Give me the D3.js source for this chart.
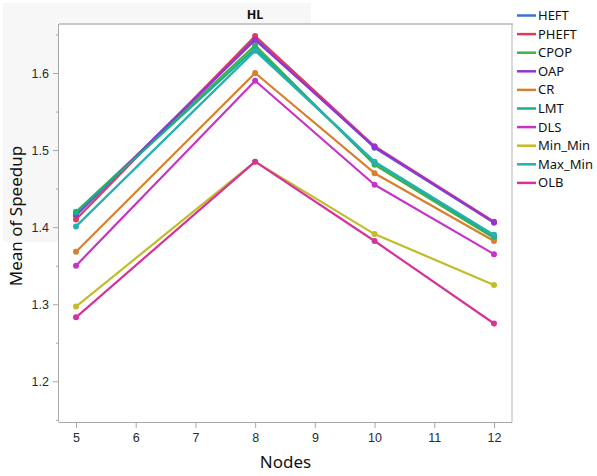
<!DOCTYPE html>
<html>
<head>
<meta charset="utf-8">
<script src="https://cdn.jsdelivr.net/npm/d3@7"></script>
<style>
  html, body { margin: 0; padding: 0; background: #fff; }
  svg { display: block; font-family: "Segoe UI", "Noto Sans", "Open Sans", sans-serif; }
</style>
</head>
<body>
<svg id="chart" width="597" height="476"></svg>
<script>
// Nodes on the x axis
const nodes = [5, 8, 10, 12];

// Algorithm names (legend order) and their colours
const algorithms = ["HEFT", "PHEFT", "CPOP", "OAP", "CR", "LMT", "DLS", "Min_Min", "Max_Min", "OLB"];
const colors = ["#3d6fe0", "#de3c5a", "#3fb34a", "#9633d6", "#d87f2e", "#1bae8a", "#c733c9", "#c2bc2a", "#26b0b0", "#d6339a"];

// Mean of speedup for each algorithm at each node count
const HEFT    = [1.415, 1.645, 1.503, 1.406];
const PHEFT   = [1.410, 1.648, 1.505, 1.407];
const CPOP    = [1.420, 1.636, 1.481, 1.386];
const OAP     = [1.416, 1.643, 1.504, 1.406];
const CR      = [1.368, 1.600, 1.470, 1.382];
const LMT     = [1.419, 1.632, 1.484, 1.388];
const DLS     = [1.350, 1.590, 1.455, 1.365];
const Min_Min = [1.297, 1.485, 1.391, 1.325];
const Max_Min = [1.401, 1.629, 1.485, 1.390];
const OLB     = [1.283, 1.485, 1.382, 1.275];

const seriesValues = [HEFT, PHEFT, CPOP, OAP, CR, LMT, DLS, Min_Min, Max_Min, OLB];

// Axis ticks
const xTicks = [5, 6, 7, 8, 9, 10, 11, 12];
const yTicks = [1.2, 1.3, 1.4, 1.5, 1.6];
const yMinorTicks = [1.15, 1.25, 1.35, 1.45, 1.55, 1.65];

const svg = d3.select("#chart");
const plot = { left: 59, right: 512, top: 24, bottom: 422 };

const x = d3.scaleLinear().domain([5, 12]).range([76, 494]);
const y = d3.scaleLinear().domain([1.2, 1.6]).range([381.3, 73]);

// Light panel behind the header and the y axis
svg.append("rect").attr("x", 3).attr("y", 3).attr("width", 308).attr("height", 239).attr("fill", "#f7f7f7");

// Plot area
svg.append("rect")
  .attr("x", plot.left).attr("y", plot.top)
  .attr("width", plot.right - plot.left).attr("height", plot.bottom - plot.top)
  .attr("fill", "#fff");

// Frame: top and right edges
svg.append("line").attr("x1", plot.left).attr("x2", plot.right + 1).attr("y1", plot.top).attr("y2", plot.top)
  .attr("stroke", "#c8c8c8").attr("stroke-width", 2);
svg.append("line").attr("x1", plot.right).attr("x2", plot.right).attr("y1", plot.top).attr("y2", plot.bottom)
  .attr("stroke", "#b4b4b4").attr("stroke-width", 1);

// Title
svg.append("text").attr("x", 255).attr("y", 19).attr("text-anchor", "middle")
  .attr("font-size", 12.5).attr("font-weight", "bold").attr("fill", "#111").text("HL");

// X axis
const xAxis = svg.append("g").attr("transform", `translate(0,${plot.bottom})`)
  .call(d3.axisBottom(x).tickValues(xTicks).tickFormat(d3.format("d")).tickSizeInner(6).tickSizeOuter(0).tickPadding(5));
xAxis.select(".domain").attr("d", `M${plot.left},0.5H${plot.right}`).attr("stroke", "#a8a8a8");
xAxis.selectAll(".tick line").attr("stroke", "#a8a8a8");
xAxis.selectAll(".tick text").attr("font-size", 12.5).attr("fill", "#2a2a2a");

// Y axis with minor ticks
const yAxis = svg.append("g").attr("transform", `translate(${plot.left},0)`)
  .call(d3.axisLeft(y).tickValues(yTicks).tickFormat(d3.format(".1f")).tickSizeInner(6).tickSizeOuter(0).tickPadding(4));
yAxis.select(".domain").attr("d", `M-0.5,${plot.top}V${plot.bottom}`).attr("stroke", "#a8a8a8");
yAxis.selectAll(".tick line").attr("stroke", "#a8a8a8");
yAxis.selectAll(".tick text").attr("font-size", 12.5).attr("fill", "#2a2a2a");
yAxis.selectAll(".minor").data(yMinorTicks).enter().append("line")
  .attr("class", "minor")
  .attr("x1", -3).attr("x2", 0)
  .attr("y1", d => y(d) + 0.5).attr("y2", d => y(d) + 0.5)
  .attr("stroke", "#a8a8a8");

// Axis titles
svg.append("text").attr("x", (plot.left + plot.right) / 2).attr("y", 468).attr("text-anchor", "middle")
  .attr("font-size", 17).attr("fill", "#111").text("Nodes");
svg.append("text").attr("transform", "translate(22,216) rotate(-90)").attr("text-anchor", "middle")
  .attr("font-size", 17).attr("fill", "#111").text("Mean of Speedup");

// Series lines and points
const line = d3.line().x((d, i) => x(nodes[i])).y(d => y(d));
const series = svg.append("g");
algorithms.forEach((name, k) => {
  const g = series.append("g").attr("class", "series");
  g.append("path").datum(seriesValues[k])
    .attr("d", line).attr("fill", "none")
    .attr("stroke", colors[k]).attr("stroke-width", 2.2).attr("stroke-linejoin", "round");
  g.selectAll("circle").data(seriesValues[k]).enter().append("circle")
    .attr("cx", (d, i) => x(nodes[i])).attr("cy", d => y(d)).attr("r", 3)
    .attr("fill", colors[k]);
});

// Legend
const legend = svg.append("g");
algorithms.forEach((name, k) => {
  const ly = 15.5 + k * 18.6;
  legend.append("line").attr("x1", 517).attr("x2", 536).attr("y1", ly).attr("y2", ly)
    .attr("stroke", colors[k]).attr("stroke-width", 2.5);
  legend.append("text").attr("x", 538).attr("y", ly + 4.5)
    .attr("font-size", 13).attr("fill", "#111").text(name);
});
</script>
</body>
</html>
